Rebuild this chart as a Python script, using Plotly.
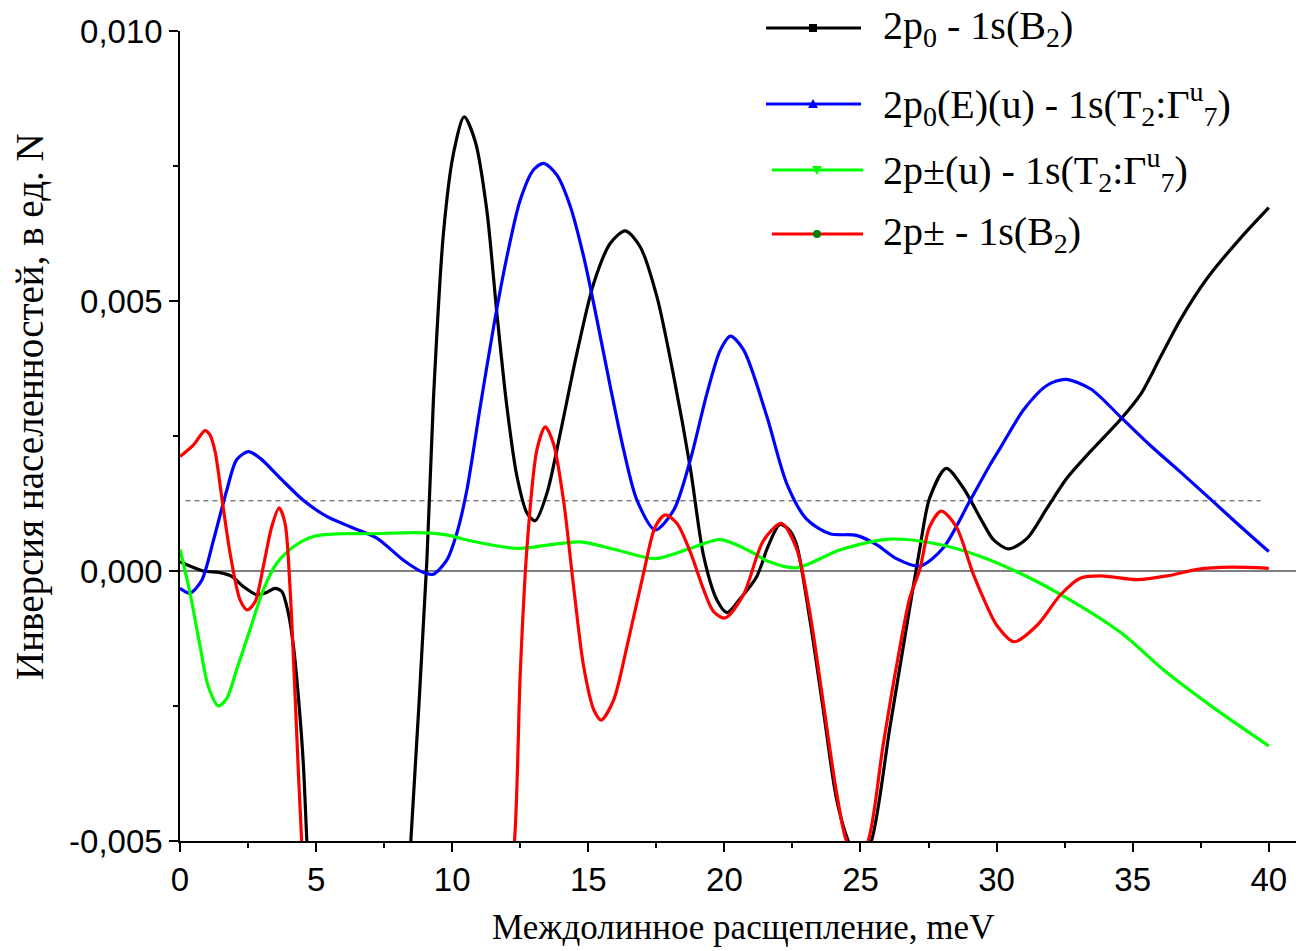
import plotly.graph_objects as go

# ---------------- data ----------------
black_x = [0.0, 0.85, 1.47, 1.9, 2.33, 2.82, 3.12, 3.49, 3.74, 3.98, 4.17, 4.35, 4.53, 4.66, 5.0, 5.5, 6.5, 7.5, 8.0, 8.48,
           9.07, 9.31, 9.68, 10.05, 10.44, 10.85, 11.27, 11.64, 12.01, 12.38, 12.75, 13.05, 13.48, 13.97, 14.58, 15.2,
           15.81, 16.36, 16.91, 17.52, 18.14, 18.75, 19.24, 19.73, 20.1, 20.6, 21.19, 21.6, 22.04, 22.4, 22.65, 23.14,
           23.63, 24.12, 24.55, 24.97, 25.4, 26.08, 26.69, 27.18, 27.54, 28.15, 28.76, 29.5, 29.9, 30.45, 31.13, 31.86,
           32.6, 33.46, 34.56, 35.29, 36.03, 36.76, 37.75, 38.97, 40.0]
black_y = [0.00017, 0.0, -0.00003, -0.0001, -0.00029, -0.00044, -0.00041, -0.00032, -0.00038, -0.00078, -0.0014, -0.00233,
           -0.00356, -0.005, -0.0085, -0.012, -0.015, -0.012, -0.0085, -0.005,
           0.0002, 0.00317, 0.00626, 0.00774, 0.00841, 0.00795, 0.00669, 0.00478, 0.00304, 0.00175, 0.00107, 0.00093,
           0.00144, 0.00255, 0.00403, 0.00533, 0.00607, 0.0063, 0.006, 0.00508, 0.0036, 0.0019, 0.00027, -0.00054,
           -0.00077, -0.0005, -0.0001, 0.00045, 0.00086, 0.00075, 0.00049, -0.0009, -0.00256, -0.00422, -0.005, -0.0054,
           -0.005, -0.0029, -0.00104, 0.00042, 0.00135, 0.0019, 0.00155, 0.00089, 0.00057, 0.00041, 0.00061, 0.00117,
           0.00173, 0.00222, 0.00281, 0.00327, 0.00397, 0.00466, 0.00543, 0.00617, 0.00673]

blue_x = [0.0, 0.37, 0.8, 1.23, 1.72, 2.08, 2.51, 2.94, 3.68, 4.53, 5.39, 6.25, 7.23, 8.21, 8.95, 9.3, 9.8, 10.17, 10.54,
          11.03, 11.52, 12.01, 12.5, 12.99, 13.36, 13.85, 14.34, 14.83, 15.32, 15.81, 16.3, 16.79, 17.46, 18.14, 18.75,
          19.36, 19.85, 20.22, 20.71, 21.55, 22.29, 23.02, 23.88, 24.85, 25.59, 26.32, 27.18, 28.03, 29.01, 29.74, 30.15,
          31.0, 31.86, 32.54, 33.46, 34.56, 35.66, 36.76, 37.99, 38.97, 40.0]
blue_y = [-0.00032, -0.00041, -0.00017, 0.00057, 0.0015, 0.00206, 0.00221, 0.00209, 0.00172, 0.00131, 0.00101, 0.00082,
          0.00061, 0.0002, -0.00003, -0.00006, 0.0002, 0.0007, 0.0015, 0.00304, 0.00452, 0.00582, 0.00687, 0.00743,
          0.00755, 0.00733, 0.00675, 0.00582, 0.00465, 0.00341, 0.00224, 0.00131, 0.00076, 0.00113, 0.00206, 0.00329,
          0.00409, 0.00435, 0.00409, 0.00288, 0.00162, 0.00096, 0.00069, 0.00066, 0.00049, 0.00023, 0.00009, 0.00042,
          0.00129, 0.00195, 0.00229, 0.00299, 0.00344, 0.00355, 0.00337, 0.00285, 0.00232, 0.00183, 0.00127, 0.00082,
          0.00036]

green_x = [0.0, 0.37, 0.74, 1.04, 1.41, 1.72, 2.08, 2.57, 3.06, 3.55, 4.17, 4.9, 5.88, 6.99, 8.7, 9.8, 10.66, 12.38, 13.5,
           14.71, 16.05, 17.46, 18.75, 19.85, 20.96, 21.6, 22.65, 24.24, 26.08, 27.91, 29.41, 30.64, 32.23, 34.56, 36.15,
           37.99, 40.0]
green_y = [0.0004, -0.00041, -0.0014, -0.00214, -0.0025, -0.00236, -0.00183, -0.00109, -0.00035, 0.00014, 0.00045,
           0.00064, 0.00069, 0.00069, 0.00071, 0.00067, 0.00056, 0.00042, 0.00048, 0.00054, 0.00039, 0.00023, 0.00042,
           0.00058, 0.00036, 0.00018, 0.00006, 0.00039, 0.00059, 0.00049, 0.00027, 0.00001, -0.0004, -0.00114, -0.00184,
           -0.00254, -0.00324]

red_x = [0.0, 0.49, 0.92, 1.1, 1.29, 1.53, 1.84, 2.21, 2.47, 2.76, 3.06, 3.37, 3.64, 3.86, 4.04, 4.23, 4.47, 5.0, 6.0, 8.0,
         10.0, 11.5, 12.29, 12.5, 12.75, 13.11, 13.42, 13.72, 14.09, 14.46, 14.83, 15.2, 15.47, 15.93, 16.42, 17.03,
         17.46, 17.83, 18.26, 18.75, 19.24, 19.6, 20.02, 20.7, 21.43, 22.1, 22.65, 23.14, 23.63, 24.12, 24.49, 24.9,
         25.28, 25.83, 26.32, 26.81, 27.18, 27.54, 27.97, 28.52, 29.13, 29.6, 30.0, 30.64, 31.5, 32.35, 33.09, 33.82,
         35.17, 36.27, 37.38, 38.6, 40.0]
red_y = [0.00212, 0.00233, 0.0026, 0.00252, 0.00221, 0.00138, 0.00033, -0.00054, -0.00072, -0.00057, 0.00008, 0.00082,
         0.00117, 0.00088, -0.00029, -0.00233, -0.005, -0.009, -0.014, -0.016, -0.014, -0.009, -0.005, -0.0019, 0.00045,
         0.00224, 0.00267, 0.00236, 0.00131, -0.00029, -0.00177, -0.00257, -0.00276, -0.00239, -0.0014, -0.00004,
         0.00082, 0.00104, 0.00088, 0.00035, -0.00035, -0.00075, -0.00087, -0.00044, 0.00056, 0.00088, 0.00042,
         -0.00077, -0.00243, -0.0041, -0.005, -0.0053, -0.005, -0.00323, -0.00177, -0.0005, 0.00003, 0.00082, 0.00111,
         0.00082, -0.00004, -0.0006, -0.001, -0.00131, -0.001, -0.00044, -0.00013, -0.00009, -0.00016, -0.00009,
         0.00003, 0.00007, 0.00005]

threshold_level = 0.0013
threshold_x = [0.2, 39.7]
zero_x = [0.0, 41.0]

x_tickvals = [0, 5, 10, 15, 20, 25, 30, 35, 40]
x_ticktext = ["0", "5", "10", "15", "20", "25", "30", "35", "40"]
y_tickvals = [-0.005, 0.0, 0.005, 0.010]
y_ticktext = ["-0,005", "0,000", "0,005", "0,010"]

series_names = [
    "2p<sub>0</sub> - 1s(B<sub>2</sub>)",
    "2p<sub>0</sub>(E)(u) - 1s(T<sub>2</sub>:Γ<sup>u</sup><sub>7</sub>)",
    "2p±(u) - 1s(T<sub>2</sub>:Γ<sup>u</sup><sub>7</sub>)",
    "2p± - 1s(B<sub>2</sub>)",
]
series_colors = ["#000000", "#0000FF", "#00FF00", "#FF0000"]
marker_colors = ["#000000", "#0000FF", "#00FF00", "#007F00"]

x_title = "Междолинное расщепление, meV"
y_title = "Инверсия населенностей, в ед. N"

# ---------------- figure ----------------
fig = go.Figure()

# reference lines
fig.add_trace(go.Scatter(x=zero_x, y=[0, 0], mode="lines", line=dict(color="black", width=1.2),
                         showlegend=False, hoverinfo="skip"))
fig.add_trace(go.Scatter(x=threshold_x, y=[threshold_level, threshold_level], mode="lines",
                         line=dict(color="#444444", width=1, dash="5px,4px"), showlegend=False, hoverinfo="skip"))

for xs, ys, name, col in zip([black_x, blue_x, green_x, red_x], [black_y, blue_y, green_y, red_y],
                             series_names, series_colors):
    fig.add_trace(go.Scatter(x=xs, y=ys, mode="lines", name=name,
                             line=dict(color=col, width=3.2, shape="spline", smoothing=0.8),
                             showlegend=False))

# ---------------- layout ----------------
L, R, T, B = 180, 1296, 31, 841
W, H = 1299, 951

def px2x(px):
    return (px - L) / (R - L)

def py2y(py):
    return (B - py) / (B - T)

fig.update_layout(
    width=W, height=H,
    margin=dict(l=L, r=W - R, t=T, b=H - B, autoexpand=False),
    plot_bgcolor="white", paper_bgcolor="white",
    showlegend=False,
    font=dict(family="Liberation Sans, Arial", size=33, color="black"),
)

fig.update_xaxes(
    range=[0, 41], showgrid=False, zeroline=False,
    showline=True, linecolor="black", linewidth=1.5,
    ticks="outside", ticklen=9, tickwidth=1.5, tickcolor="black",
    tickvals=x_tickvals, ticktext=x_ticktext,
    tickfont=dict(family="Liberation Sans, Arial", size=33, color="black"),
    minor=dict(ticks="outside", ticklen=5, tickwidth=1.5, tickcolor="black", dtick=2.5, tick0=0, showgrid=False),
)
fig.update_yaxes(
    range=[-0.005, 0.010], showgrid=False, zeroline=False,
    showline=True, linecolor="black", linewidth=1.5,
    ticks="outside", ticklen=9, tickwidth=1.5, tickcolor="black",
    tickvals=y_tickvals, ticktext=y_ticktext,
    tickfont=dict(family="Liberation Sans, Arial", size=33, color="black"),
    minor=dict(ticks="outside", ticklen=5, tickwidth=1.5, tickcolor="black", dtick=0.0025, tick0=0, showgrid=False),
)

annotations = []
shapes = []

# axis titles
annotations.append(dict(text=x_title, xref="paper", yref="paper", x=px2x(743), y=py2y(949),
                        xanchor="center", yanchor="bottom", showarrow=False,
                        font=dict(family="Liberation Serif, Times New Roman", size=35, color="black")))
annotations.append(dict(text=y_title, xref="paper", yref="paper", x=px2x(30), y=py2y(407),
                        xanchor="center", yanchor="middle", showarrow=False, textangle=-90,
                        font=dict(family="Liberation Serif, Times New Roman", size=39, color="black")))

# custom legend
rows = [28, 104, 170, 234]
line_spans = [(766, 861), (766, 861), (772, 863), (772, 863)]
marker_cx = [813, 813, 817, 817]
symbols = ["square", "triangle-up", "triangle-down", "circle"]
for i in range(4):
    yy = py2y(rows[i])
    x0, x1 = line_spans[i]
    shapes.append(dict(type="line", xref="paper", yref="paper", x0=px2x(x0), x1=px2x(x1), y0=yy, y1=yy,
                       line=dict(color=series_colors[i], width=3)))
    cx, cy = marker_cx[i], rows[i]
    mc = marker_colors[i]
    s = 4
    if symbols[i] == "square":
        shapes.append(dict(type="rect", xref="paper", yref="paper", x0=px2x(cx - s), x1=px2x(cx + s),
                           y0=py2y(cy + s), y1=py2y(cy - s), fillcolor=mc, line=dict(width=0)))
    elif symbols[i] == "circle":
        shapes.append(dict(type="circle", xref="paper", yref="paper", x0=px2x(cx - s), x1=px2x(cx + s),
                           y0=py2y(cy + s), y1=py2y(cy - s), fillcolor=mc, line=dict(width=0)))
    elif symbols[i] == "triangle-up":
        path = "M {} {} L {} {} L {} {} Z".format(px2x(cx - 5), py2y(cy + 4), px2x(cx + 5), py2y(cy + 4),
                                                  px2x(cx), py2y(cy - 5))
        shapes.append(dict(type="path", xref="paper", yref="paper", path=path, fillcolor=mc, line=dict(width=0)))
    else:
        path = "M {} {} L {} {} L {} {} Z".format(px2x(cx - 5), py2y(cy - 4), px2x(cx + 5), py2y(cy - 4),
                                                  px2x(cx), py2y(cy + 5))
        shapes.append(dict(type="path", xref="paper", yref="paper", path=path, fillcolor=mc, line=dict(width=0)))
    annotations.append(dict(text=series_names[i], xref="paper", yref="paper", x=px2x(881), y=yy,
                            xanchor="left", yanchor="middle", showarrow=False,
                            font=dict(family="Liberation Serif, Times New Roman", size=40, color="black")))

fig.update_layout(annotations=annotations, shapes=shapes)

fig.write_html("out.html")
